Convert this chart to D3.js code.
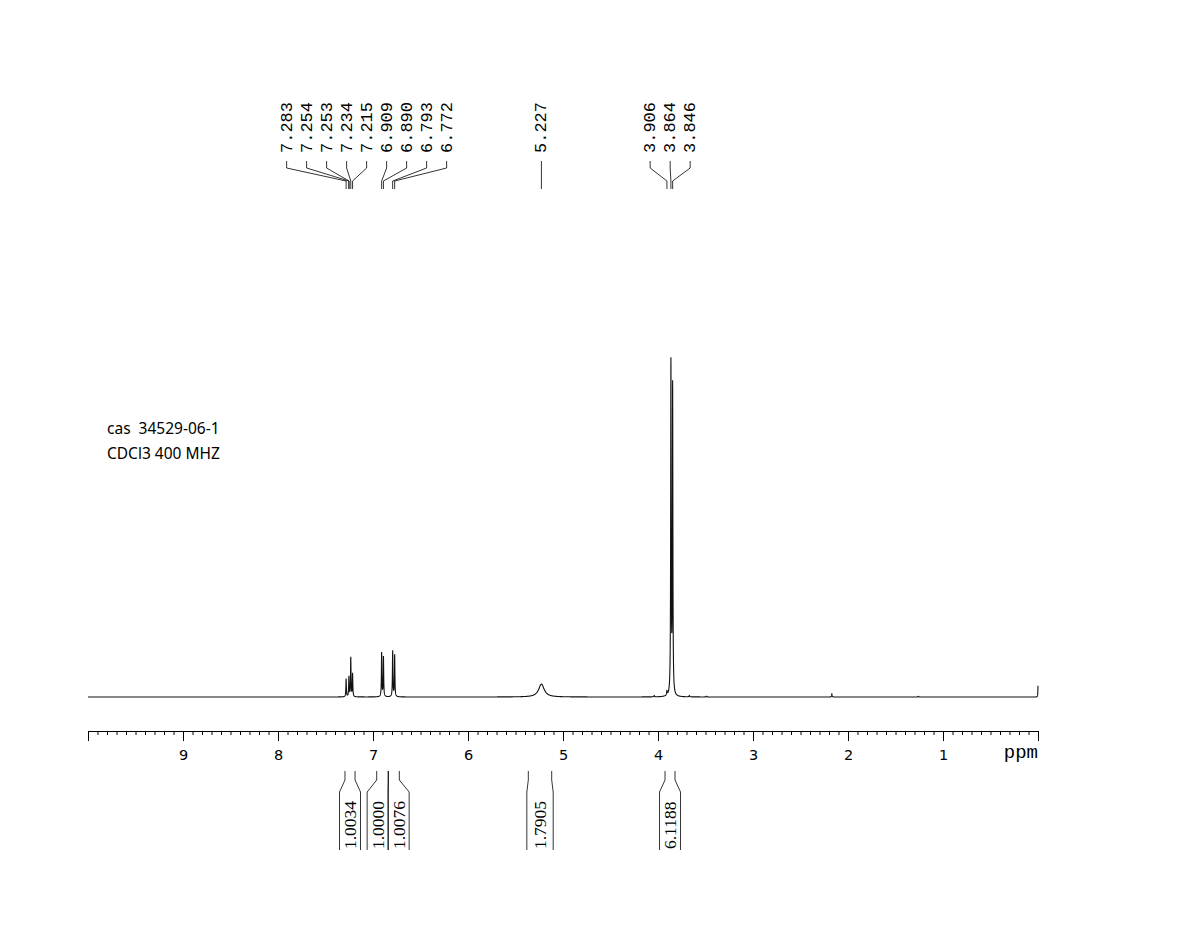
<!DOCTYPE html>
<html>
<head>
<meta charset="utf-8">
<script src="https://cdn.jsdelivr.net/npm/d3@7"></script>
<style>
  html, body { margin: 0; padding: 0; background: #fff; }
  svg { display: block; }
</style>
</head>
<body>
<svg id="chart" width="1182" height="952"></svg>
<script>
// ---------------- data ----------------
const peakPpm    = [7.283, 7.254, 7.253, 7.234, 7.215, 6.909, 6.890, 6.793, 6.772, 5.227, 4.040, 3.906, 3.864, 3.846, 3.670, 3.490, 2.170, 1.260, 0.000];
const peakHeight = [5.3,   3.0,   3.0,   11.5,  6.8,   12.9,  11.7,  13.5,  12.3,  3.8,   0.4,   1.2,   97.5,  90.5,  0.4,   0.2,   0.9,   0.2,   3.3];
const peakWidth  = [0.003, 0.003, 0.003, 0.003, 0.003, 0.003, 0.003, 0.003, 0.003, 0.035, 0.004, 0.004, 0.003, 0.003, 0.004, 0.004, 0.003, 0.004, 0.002];

// peak label groups (ppm values shown at the top)
const labelGroups = [
  [7.283, 7.254, 7.253, 7.234, 7.215, 6.909, 6.890, 6.793, 6.772],
  [5.227],
  [3.906, 3.864, 3.846]
];

// integrals
const integralFrom  = [7.295, 6.961, 6.839, 5.365, 3.926];
const integralTo    = [7.189, 6.839, 6.723, 5.119, 3.821];
const integralValue = ["1.0034", "1.0000", "1.0076", "1.7905", "6.1188"];

const majorTicks = [10, 9, 8, 7, 6, 5, 4, 3, 2, 1, 0];
const majorTickLabels = ["", "9", "8", "7", "6", "5", "4", "3", "2", "1", ""];
const axisUnit = "ppm";
const noteLines = ["cas  34529-06-1", "CDCl3 400 MHZ"];

// ---------------- chart ----------------
const svg = d3.select("#chart");
const x = d3.scaleLinear().domain([10, 0]).range([88, 1038]);
const y = d3.scaleLinear().domain([0, 100]).range([697, 357]);

// spectrum built from the peak list (Lorentzian lines)
const pts = [];
for (let i = 20000; i >= 0; i--) {
  const p = i / 2000;
  let v = 0;
  for (let k = 0; k < peakPpm.length; k++) {
    const d = p - peakPpm[k], g = peakWidth[k];
    v += peakHeight[k] * g * g / (d * d + g * g);
  }
  pts.push({ p, v });
}
svg.append("path")
  .datum(pts)
  .attr("fill", "none")
  .attr("stroke", "#111")
  .attr("stroke-width", 1.1)
  .attr("d", d3.line().x(d => x(d.p)).y(d => y(d.v)));

// axis
const axisY = 731;
const minor = d3.range(0, 101).map(i => i / 10).filter(v => Math.abs(v - Math.round(v)) > 1e-6);
svg.append("g")
  .attr("transform", `translate(0,${axisY})`)
  .call(d3.axisBottom(x).tickValues(minor).tickSize(4).tickSizeOuter(0).tickFormat(""))
  .call(g => g.select(".domain").remove())
  .call(g => g.selectAll("line").attr("stroke", "#000"));
const ax = svg.append("g")
  .attr("transform", `translate(0,${axisY})`)
  .call(d3.axisBottom(x).tickValues(majorTicks).tickSize(10).tickSizeOuter(0).tickPadding(9)
        .tickFormat((d, i) => majorTickLabels[i]));
ax.select(".domain").attr("stroke", "#000");
ax.selectAll("line").attr("stroke", "#000");
ax.selectAll("text").attr("font-family", "DejaVu Sans").attr("font-size", 14.5).attr("fill", "#000");
svg.append("text")
  .attr("x", x(0)).attr("y", 758)
  .attr("text-anchor", "end")
  .attr("font-family", "Liberation Mono")
  .attr("font-size", 19)
  .text(axisUnit);

// peak labels
const labelStep = 20;
labelGroups.forEach(group => {
  const px = group.map(p => x(p));
  const cx = d3.mean(px);
  group.forEach((p, i) => {
    const lx = cx + (i - (group.length - 1) / 2) * labelStep;
    svg.append("path")
      .attr("fill", "none").attr("stroke", "#000").attr("stroke-width", 0.8)
      .attr("d", `M${lx},161V168L${px[i]},181V189`);
    svg.append("text")
      .attr("transform", `translate(${lx + 5},153) rotate(-90)`)
      .attr("font-family", "Liberation Mono")
      .attr("font-size", 17)
      .attr("fill", "#000")
      .text(p.toFixed(3));
  });
});

// integrals
const boxes = integralFrom.map((f, i) => {
  const a = x(f), b = x(integralTo[i]);
  const w = Math.max(21, (b - a) + 3);
  const c = (a + b) / 2;
  return { a, b, c, w, l: c - w / 2, r: c + w / 2, t: integralValue[i] };
});
for (let iter = 0; iter < 10; iter++) {
  for (let i = 0; i < boxes.length - 1; i++) {
    const o = boxes[i].r - boxes[i + 1].l;
    if (o > 0) {
      boxes[i].l -= o / 2; boxes[i].r -= o / 2;
      boxes[i + 1].l += o / 2; boxes[i + 1].r += o / 2;
    }
  }
}
boxes.forEach(bx => {
  svg.append("path").attr("fill", "none").attr("stroke", "#000").attr("stroke-width", 0.8)
    .attr("d", `M${bx.a},771V780L${bx.l},792V850`);
  svg.append("path").attr("fill", "none").attr("stroke", "#000").attr("stroke-width", 0.8)
    .attr("d", `M${bx.b},771V780L${bx.r},792V850`);
  svg.append("text")
    .attr("transform", `translate(${(bx.l + bx.r) / 2 + 6},849) rotate(-90)`)
    .attr("font-family", "Liberation Serif")
    .attr("font-size", 17.5)
    .attr("fill", "#000")
    .text(bx.t);
});

// notes
noteLines.forEach((t, i) => {
  svg.append("text")
    .attr("x", 107).attr("y", 433.5 + i * 25)
    .attr("font-family", "Noto Sans")
    .attr("font-size", 15.5)
    .attr("fill", "#000")
    .style("white-space", "pre")
    .attr("xml:space", "preserve")
    .text(t);
});
</script>
</body>
</html>
